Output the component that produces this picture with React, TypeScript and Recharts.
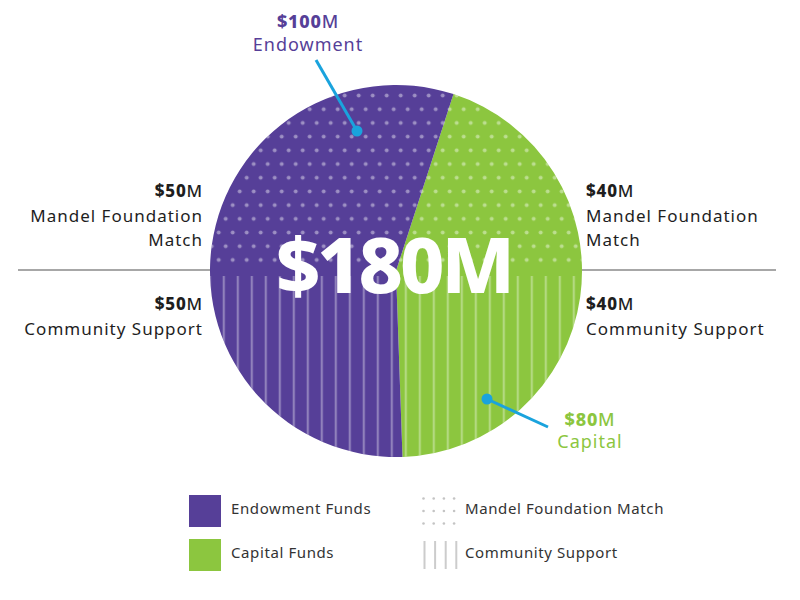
import React from 'react'
import { PieChart, Pie, Cell } from 'recharts'

// Fund split (colour slices)
const funds = ['Capital', 'Endowment']
const fundValues = [80, 100]
const fundColors = ['#8cc63f', '#563f98']

// Source split (pattern overlay: top half / bottom half)
const sources = ['Mandel Foundation Match', 'Community Support']
const sourceValues = [90, 90]

// side labels
const leftAmounts = ['$50', '$50']
const rightAmounts = ['$40', '$40']
const sourceLines = [['Mandel Foundation', 'Match'], ['Community Support']]

const totalLabel = '$180M'
const calloutAmounts = ['$80', '$100']
const calloutNames = ['Capital', 'Endowment']

const legendFunds = ['Endowment Funds', 'Capital Funds']
const legendSources = ['Mandel Foundation Match', 'Community Support']

const FONT = '"Noto Sans", sans-serif'
const BLUE = '#1aa3dd'

const fundData = funds.map((name, i) => ({ name, value: fundValues[i] }))
const sourceData = sources.map((name, i) => ({ name, value: sourceValues[i] }))

function Amount({ x, y, amount, anchor, color, size = 17 }: any) {
  return (
    <text x={x} y={y} textAnchor={anchor} fontFamily={FONT} fontSize={size} fill={color} letterSpacing={0.8}>
      <tspan fontWeight={800}>{amount}</tspan>
      <tspan fontWeight={500}>M</tspan>
    </text>
  )
}

export default function App() {
  const blockY = [197, 310]
  return (
    <div style={{ position: 'absolute', left: 0, top: 0, width: 800, height: 600, background: '#fff' }}>
      {/* background: divider + pattern defs */}
      <svg width={800} height={600} style={{ position: 'absolute', left: 0, top: 0 }}>
        <defs>
          <pattern id="dots" patternUnits="userSpaceOnUse" x={278.2} y={133.2} width={14} height={27.4}>
            <circle cx={3.5} cy={3.5} r={2} fill="#fff" fillOpacity={0.42} />
            <circle cx={10.5} cy={17.2} r={2} fill="#fff" fillOpacity={0.42} />
          </pattern>
          <pattern id="lines" patternUnits="userSpaceOnUse" x={250.7} y={276} width={14} height={1000}>
            <rect x={0} y={0} width={2.2} height={995} fill="#fff" fillOpacity={0.34} />
          </pattern>
        </defs>
        <line x1={18} x2={776} y1={270} y2={270} stroke="#8a8a8a" strokeWidth={1.5} />
      </svg>

      <div style={{ position: 'absolute', left: 0, top: 0 }}>
        <PieChart width={800} height={600} margin={{ top: 0, right: 0, bottom: 0, left: 0 }}>
          <Pie
            data={fundData}
            dataKey="value"
            nameKey="name"
            cx={396}
            cy={271}
            outerRadius={186}
            startAngle={72}
            endAngle={-288}
            stroke="none"
            isAnimationActive={false}
          >
            {fundData.map((d, i) => (
              <Cell key={d.name} fill={fundColors[i]} />
            ))}
          </Pie>
          <Pie
            data={sourceData}
            dataKey="value"
            nameKey="name"
            cx={396}
            cy={271}
            outerRadius={186}
            startAngle={0}
            endAngle={360}
            stroke="none"
            isAnimationActive={false}
          >
            {sourceData.map((d, i) => (
              <Cell key={d.name} fill={i === 0 ? 'url(#dots)' : 'url(#lines)'} />
            ))}
          </Pie>
        </PieChart>
      </div>

      {/* foreground: labels, callouts, legend */}
      <svg width={800} height={600} style={{ position: 'absolute', left: 0, top: 0, pointerEvents: 'none' }}>
        <text x={394} y={293} textAnchor="middle" fontFamily={FONT} fontWeight={800} fontSize={77}
          letterSpacing={-3} fill="#fff">{totalLabel}</text>

        {/* side labels */}
        {sourceLines.map((lines, i) => (
          <g key={i}>
            <Amount x={203} y={blockY[i]} amount={leftAmounts[i]} anchor="end" color="#1e1e1e" />
            <Amount x={586} y={blockY[i]} amount={rightAmounts[i]} anchor="start" color="#1e1e1e" />
            {lines.map((ln, j) => (
              <g key={ln}>
                <text x={203} y={blockY[i] + 24.5 * (j + 1)} textAnchor="end" fontFamily={FONT}
                  fontSize={17} letterSpacing={1} fill="#1e1e1e">{ln}</text>
                <text x={586} y={blockY[i] + 24.5 * (j + 1)} textAnchor="start" fontFamily={FONT}
                  fontSize={17} letterSpacing={1} fill="#1e1e1e">{ln}</text>
              </g>
            ))}
          </g>
        ))}

        {/* Endowment callout */}
        <Amount x={308} y={28} amount={calloutAmounts[1]} anchor="middle" color={fundColors[1]} size={18} />
        <text x={308} y={51} textAnchor="middle" fontFamily={FONT} fontSize={18} letterSpacing={1}
          fill={fundColors[1]}>{calloutNames[1]}</text>
        <line x1={316} y1={60} x2={357} y2={131} stroke={BLUE} strokeWidth={3} />
        <circle cx={357} cy={131} r={5.5} fill={BLUE} />

        {/* Capital callout */}
        <Amount x={590} y={426} amount={calloutAmounts[0]} anchor="middle" color={fundColors[0]} size={18} />
        <text x={590} y={448} textAnchor="middle" fontFamily={FONT} fontSize={18} letterSpacing={1}
          fill={fundColors[0]}>{calloutNames[0]}</text>
        <line x1={487} y1={399} x2={548} y2={427} stroke={BLUE} strokeWidth={3} />
        <circle cx={487} cy={399} r={5.5} fill={BLUE} />

        {/* legend */}
        {legendFunds.map((name, i) => (
          <g key={name}>
            <rect x={189} y={495 + i * 44} width={32} height={32} fill={i === 0 ? fundColors[1] : fundColors[0]} />
            <text x={231} y={514 + i * 44} fontFamily={FONT} fontSize={15} letterSpacing={0.6} fill="#333">{name}</text>
          </g>
        ))}
        {[0, 1, 2].map(r => [0, 1, 2, 3].map(c => (
          <circle key={`${r}-${c}`} cx={423.5 + c * 10.2} cy={498.5 + r * 12.5} r={1.3} fill="#c4c4c4" />
        )))}
        {[0, 1, 2, 3].map(c => (
          <rect key={c} x={423.5 + c * 10.6} y={541} width={2} height={28} fill="#cccccc" />
        ))}
        {legendSources.map((name, i) => (
          <text key={name} x={465} y={514 + i * 44} fontFamily={FONT} fontSize={15} letterSpacing={0.6}
            fill="#333">{name}</text>
        ))}
      </svg>
    </div>
  )
}
